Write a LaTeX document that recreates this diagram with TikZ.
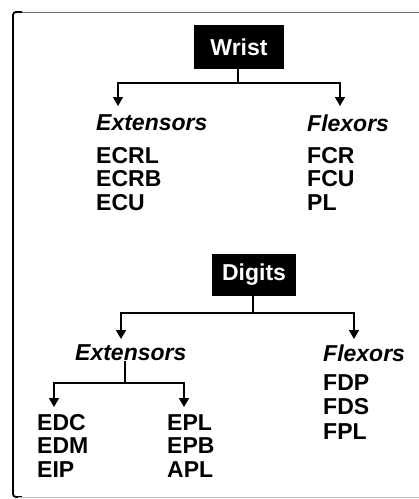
\documentclass[tikz,border=0pt]{standalone}
\usepackage{fontspec}
\setmainfont{Liberation Sans}
\usepackage{tikz}
\usetikzlibrary{arrows.meta}
\definecolor{ink}{RGB}{0,0,0}
\definecolor{rim}{RGB}{110,110,110}

\begin{document}
\begin{tikzpicture}[x=1pt, y=-1pt,
		head/.style={fill=ink, text=white, inner sep=0pt, font=\bfseries\fontsize{23}{24}\selectfont},
		grp/.style={anchor=west, inner sep=0pt, font=\bfseries\itshape\fontsize{23}{24}\selectfont},
		lst/.style={anchor=north west, inner sep=0pt, align=left, font=\bfseries\fontsize{23}{23.5}\selectfont},
		arr/.style={-{Triangle[width=10pt, length=9pt]}, line width=1.6pt, ink},
		wire/.style={line width=1.6pt, ink}]
		\useasboundingbox (0,0) rectangle (419,499);
		% frame
		\draw[rim, line width=1pt] (419,12) -- (18,12);
		\draw[ink, line width=1.8pt, rounded corners=3pt] (22,12) -- (13,12) -- (13,497) -- (22,497);
		\draw[black!25, line width=0.8pt] (18,497) -- (419,497);
		% wrist
		\node[head, minimum width=90pt, minimum height=44pt] (wrist) at (239,47) {Wrist};
		\node[grp] (wext) at (96,123) {Extensors};
		\node[grp] (wflex) at (307,123) {Flexors};
		\node[lst] (wextlist) at (96,147) {ECRL\\ECRB\\ECU};
		\node[lst] (wflexlist) at (307,147) {FCR\\FCU\\PL};
		\coordinate (wj) at (238,83);
		\coordinate (wa) at (118,106);
		\coordinate (wb) at (340,106);
		\draw[wire] (wrist.south -| wj) -- (wj);
		\draw[arr] (wj) -| (wa);
		\draw[arr] (wj) -| (wb);
		% digits
		\node[head, minimum width=84pt, minimum height=42pt] (digits) at (254,275) {Digits};
		\node[grp] (dext) at (75,353) {Extensors};
		\node[grp] (dflex) at (323,353) {Flexors};
		\node[lst, font=\bfseries\fontsize{23}{24.5}\selectfont] (dflexlist) at (323,374) {FDP\\FDS\\FPL};
		\node[lst] (dcomlist) at (37,414) {EDC\\EDM\\EIP};
		\node[lst] (dpollist) at (167,414) {EPL\\EPB\\APL};
		\coordinate (dj) at (253,313);
		\coordinate (da) at (121,339);
		\coordinate (db) at (354,339);
		\draw[wire] (digits.south -| dj) -- (dj);
		\draw[arr] (dj) -| (da);
		\draw[arr] (dj) -| (db);
		\coordinate (ej) at (125,383);
		\coordinate (ea) at (54,407);
		\coordinate (eb) at (184,407);
		\draw[wire] (dext.south -| ej) -- (ej);
		\draw[arr] (ej) -| (ea);
		\draw[arr] (ej) -| (eb);
	\end{tikzpicture}
\end{document}
